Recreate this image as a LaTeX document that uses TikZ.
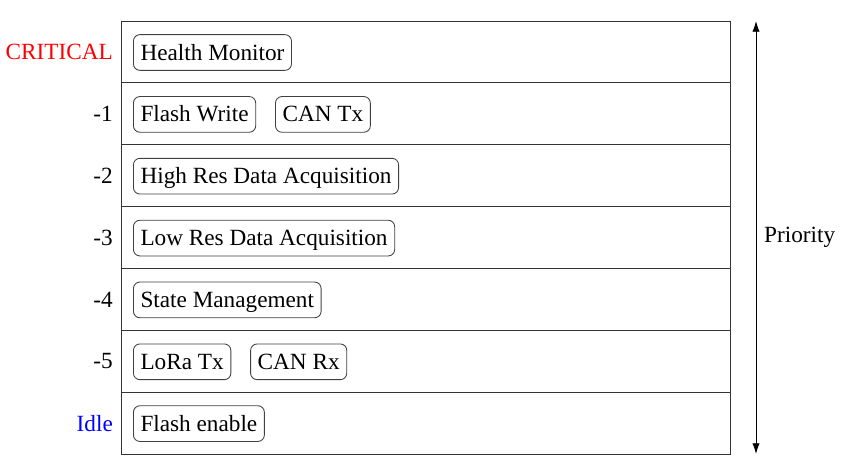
\documentclass[tikz,border=0pt]{standalone}
\usepackage{fontspec}
\setmainfont{Liberation Serif}
\usetikzlibrary{arrows.meta}
\begin{document}
\begin{tikzpicture}[x=0.465pt,y=-0.465pt,
  font=\fontsize{10.8}{13}\selectfont,
  task/.style={draw=black!75, rounded corners=3pt, anchor=west, minimum height=16.6pt,
    inner sep=3.3pt, text height=8.3pt, text depth=1.3pt},
  level/.style={anchor=east, inner sep=3.6pt},
  lane/.style={draw=black!80, line width=0.45pt},
  tip/.tip={Latex[length=5pt,width=3.4pt]}]
\useasboundingbox (0,0) rectangle (845,467);
% priority lanes
\foreach \i in {0,...,6}
  \draw[lane] (121,{21+61.857*\i}) rectangle (730,{21+61.857*(\i+1)});
% level labels
\node[level, text=red] (lcrit) at (121,52) {CRITICAL};
\node[level] (l1) at (121,113.9) {-1};
\node[level] (l2) at (121,175.7) {-2};
\node[level] (l3) at (121,237.6) {-3};
\node[level] (l4) at (121,299.4) {-4};
\node[level] (l5) at (121,361.3) {-5};
\node[level, text=blue] (lidle) at (121,423.1) {Idle};
% tasks
\node[task] (hm) at (133,52.5) {Health Monitor};
\node[task] (fw) at (133,114.4) {Flash Write};
\node[task] (ctx) at ([xshift=8.8pt]fw.east) {CAN Tx};
\node[task] (hres) at (133,176.2) {High Res Data Acquisition};
\node[task] (lres) at (133,238.1) {Low Res Data Acquisition};
\node[task] (sm) at (133,299.9) {State Management};
\node[task] (lora) at (133,361.8) {LoRa Tx};
\node[task] (crx) at ([xshift=8.8pt]lora.east) {CAN Rx};
\node[task] (fe) at (133,423.6) {Flash enable};
% priority axis
\coordinate (ptop) at (756,21);
\coordinate (pbot) at (756,454);
\draw[tip-tip] (ptop) -- (pbot);
\node[anchor=west, inner sep=3.6pt] (prio) at (756,237.6) {Priority};
\end{tikzpicture}
\end{document}
